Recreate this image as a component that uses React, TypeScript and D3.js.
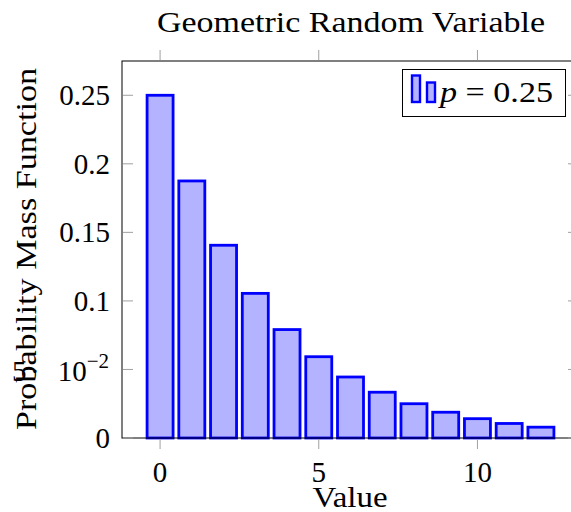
import { useEffect, useRef } from "react";
import * as d3 from "d3";

const values = [0, 1, 2, 3, 4, 5, 6, 7, 8, 9, 10, 11, 12];
const probs = [0.25, 0.1875, 0.1406, 0.1055, 0.0791, 0.0593, 0.0445, 0.0334, 0.025, 0.0188, 0.0141, 0.0106, 0.0079];
const xTicks = [0, 5, 10];
const yTicks = [0, 0.05, 0.1, 0.15, 0.2, 0.25];
const yTickLabels = ["0", "", "0.1", "0.15", "0.2", "0.25"];

const FONT = "'Liberation Serif', 'DejaVu Serif', serif";

export default function App() {
  const svgRef = useRef<SVGSVGElement | null>(null);

  useEffect(() => {
    const svg = d3.select(svgRef.current);
    svg.selectAll("*").remove();
    const width = 571;
    const height = 512;
    const left = 122, right = 579, top = 61, bottom = 438;

    const x = d3.scaleLinear().domain([-1.2, 13.2]).range([left, right]);
    const y = d3.scaleLinear().domain([0, 0.275]).range([bottom, top]);
    const barW = 26;

    svg.attr("width", width).attr("height", height).attr("viewBox", `0 0 ${width} ${height}`);
    svg.append("rect").attr("width", width).attr("height", height).attr("fill", "white");

    // bars
    svg.append("g")
      .selectAll("rect")
      .data(values)
      .enter()
      .append("rect")
      .attr("x", (d) => x(d) - barW / 2)
      .attr("y", (_, i) => y(probs[i]))
      .attr("width", barW)
      .attr("height", (_, i) => y(0) - y(probs[i]))
      .attr("fill", "#b3b3ff")
      .attr("stroke", "#0000ff")
      .attr("stroke-width", 2.8);

    // frame
    svg.append("rect")
      .attr("x", left).attr("y", top)
      .attr("width", right - left).attr("height", bottom - top)
      .attr("fill", "none").attr("stroke", "black").attr("stroke-width", 1);

    // axis labels (drawn before tick labels so the tick label sits on top, as in the original)
    svg.append("text").attr("x", 350).attr("y", 507)
      .attr("text-anchor", "middle").attr("font-family", FONT).attr("font-size", 29)
      .attr("textLength", 75).attr("lengthAdjust", "spacingAndGlyphs")
      .text("Value");
    svg.append("text")
      .attr("transform", "translate(36,249) rotate(-90)")
      .attr("text-anchor", "middle").attr("font-family", FONT).attr("font-size", 29)
      .attr("textLength", 362).attr("lengthAdjust", "spacingAndGlyphs")
      .text("Probability Mass Function");

    const tickColor = "#a0a0a0";
    // x ticks (outward, bottom + top)
    xTicks.forEach((t) => {
      svg.append("line").attr("x1", x(t)).attr("x2", x(t)).attr("y1", bottom + 1).attr("y2", bottom + 11)
        .attr("stroke", tickColor).attr("stroke-width", 1);
      svg.append("line").attr("x1", x(t)).attr("x2", x(t)).attr("y1", top - 1).attr("y2", top - 11)
        .attr("stroke", tickColor).attr("stroke-width", 1);
      svg.append("text").attr("x", x(t)).attr("y", 482)
        .attr("text-anchor", "middle").attr("font-family", FONT).attr("font-size", 29)
        .text(String(t));
    });

    // y ticks (inward, left + right)
    yTicks.forEach((t, i) => {
      svg.append("line").attr("x1", left + 1).attr("x2", left + 11).attr("y1", y(t)).attr("y2", y(t))
        .attr("stroke", tickColor).attr("stroke-width", 1);
      svg.append("line").attr("x1", right - 1).attr("x2", right - 11).attr("y1", y(t)).attr("y2", y(t))
        .attr("stroke", tickColor).attr("stroke-width", 1);
      if (yTickLabels[i]) {
        svg.append("text").attr("x", 110).attr("y", y(t) + 10)
          .attr("text-anchor", "end").attr("font-family", FONT).attr("font-size", 29)
          .text(yTickLabels[i]);
      }
    });

    // 5 · 10^-2 label
    const sy = y(0.05) + 12;
    svg.append("text").attr("x", 12).attr("y", sy)
      .attr("font-family", FONT).attr("font-size", 29).text("5");
    svg.append("text").attr("x", 30).attr("y", sy)
      .attr("font-family", FONT).attr("font-size", 29).text("·");
    const sci = svg.append("text").attr("x", 109).attr("y", sy)
      .attr("text-anchor", "end").attr("font-family", FONT).attr("font-size", 29);
    sci.append("tspan").text("10");
    sci.append("tspan").attr("dy", -13).attr("font-size", 21).text("−2");

    // title
    svg.append("text").attr("x", 351).attr("y", 32)
      .attr("text-anchor", "middle").attr("font-family", FONT).attr("font-size", 29)
      .attr("textLength", 388).attr("lengthAdjust", "spacingAndGlyphs")
      .text("Geometric Random Variable");

    // legend
    const lg = svg.append("g");
    lg.append("rect").attr("x", 402.5).attr("y", 69.5).attr("width", 163).attr("height", 47)
      .attr("fill", "white").attr("stroke", "black").attr("stroke-width", 1);
    lg.append("rect").attr("x", 412).attr("y", 75.5).attr("width", 8).attr("height", 26.5)
      .attr("fill", "#b3b3ff").attr("stroke", "#0000ff").attr("stroke-width", 2.4);
    lg.append("rect").attr("x", 427).attr("y", 82.5).attr("width", 8).attr("height", 19.5)
      .attr("fill", "#b3b3ff").attr("stroke", "#0000ff").attr("stroke-width", 2.4);
    const lt = lg.append("text").attr("x", 440).attr("y", 102)
      .attr("font-family", FONT).attr("font-size", 29)
      .attr("textLength", 113).attr("lengthAdjust", "spacingAndGlyphs");
    lt.append("tspan").attr("font-style", "italic").text("p");
    lt.append("tspan").text(" = 0.25");
  }, []);

  return (
    <svg ref={svgRef} style={{ position: "absolute", left: 0, top: 0, display: "block" }} />
  );
}
